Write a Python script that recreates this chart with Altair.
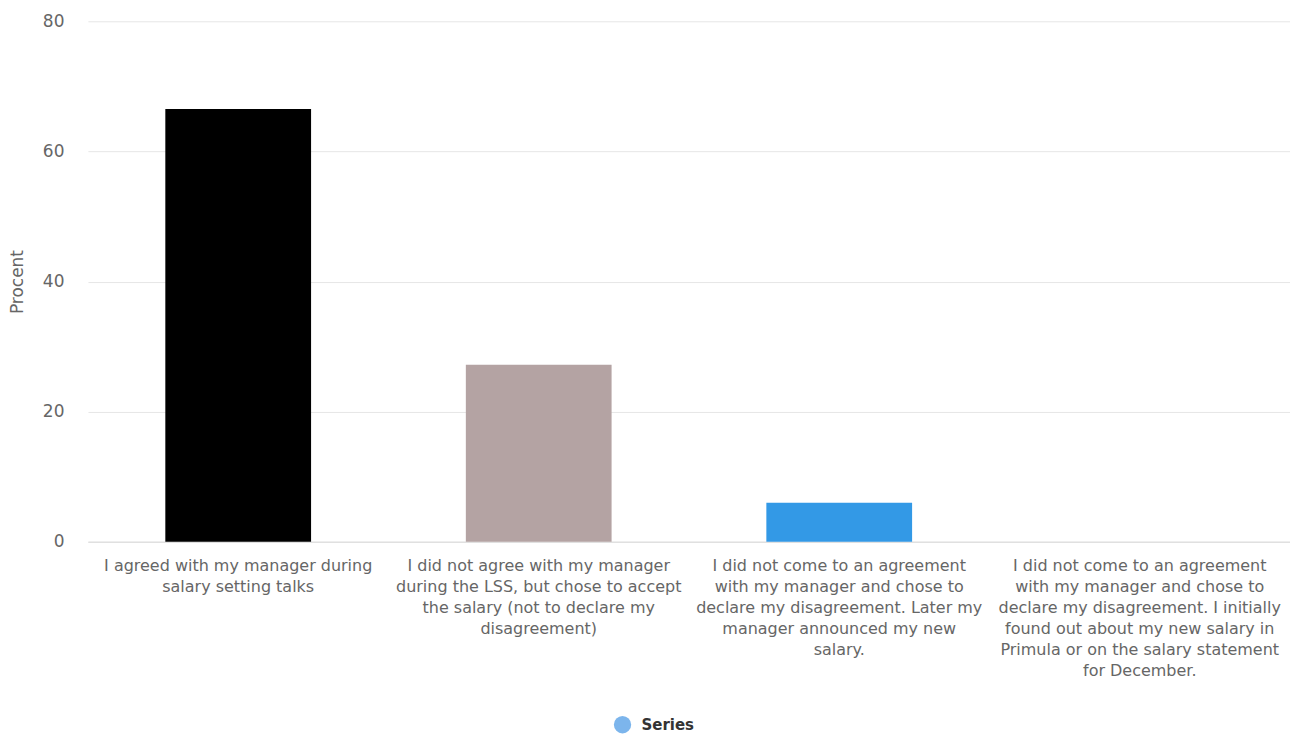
import altair as alt
import pandas as pd

categories = [
    "I agreed with my manager during\nsalary setting talks",
    "I did not agree with my manager\nduring the LSS, but chose to accept\nthe salary (not to declare my\ndisagreement)",
    "I did not come to an agreement\nwith my manager and chose to\ndeclare my disagreement. Later my\nmanager announced my new\nsalary.",
    "I did not come to an agreement\nwith my manager and chose to\ndeclare my disagreement. I initially\nfound out about my new salary in\nPrimula or on the salary statement\nfor December.",
]
values = [66.5, 27.2, 6.0, 0.0]
bar_colors = ["#000000", "#b4a3a3", "#3399e6", "#7cb5ec"]
series_name = "Series"
y_ticks = [0, 20, 40, 60, 80]

df = pd.DataFrame({
    "category": categories,
    "value": values,
    "barcolor": bar_colors,
    "series": [series_name] * len(categories),
})

font = "DejaVu Sans"

x_enc = alt.X(
    "category:N",
    sort=None,
    title=None,
    scale=alt.Scale(paddingInner=0.515, paddingOuter=0.2575),
    axis=alt.Axis(
        labelAngle=0,
        labelExpr="split(datum.label, '\\n')",
        labelAlign="center",
        labelBaseline="top",
        labelLineHeight=21,
        labelFontSize=16,
        labelColor="#666666",
        labelFont=font,
        labelPadding=16,
        labelLimit=400,
        ticks=False,
        grid=False,
        domainColor="#e0e0e0",
        domainWidth=1.5,
    ),
)

y_enc = alt.Y(
    "value:Q",
    title="Procent",
    scale=alt.Scale(domain=[0, 80]),
    axis=alt.Axis(
        values=y_ticks,
        labelFontSize=17,
        labelColor="#666666",
        labelFont=font,
        labelPadding=24,
        ticks=False,
        domain=False,
        gridColor="#e6e6e6",
        titleFontSize=17,
        titleFontWeight="normal",
        titleColor="#666666",
        titleFont=font,
        titlePadding=16,
    ),
)

bars = alt.Chart(df).mark_bar().encode(
    x=x_enc,
    y=y_enc,
    fill=alt.Fill("barcolor:N", scale=None),
)

legend_pts = alt.Chart(df).mark_point(filled=True, size=0, opacity=0).encode(
    x=alt.X("category:N", sort=None),
    y=alt.Y("value:Q"),
    color=alt.Color(
        "series:N",
        scale=alt.Scale(domain=[series_name], range=["#7cb5ec"]),
        legend=alt.Legend(
            title=None,
            orient="none",
            legendX=526,
            legendY=695,
            symbolType="circle",
            symbolSize=300,
            symbolOpacity=1,
            symbolStrokeWidth=0,
            labelFontSize=15,
            labelFontWeight="bold",
            labelColor="#333333",
            labelFont=font,
            padding=0,
            labelOffset=10,
        ),
    ),
)

chart = (
    alt.layer(bars, legend_pts)
    .properties(width=1203, height=521, padding={"left": 0, "top": 4, "right": 0, "bottom": 0})
    .configure_view(stroke=None)
)

chart.save("out.html", embed_options={"renderer": "svg", "actions": False})
